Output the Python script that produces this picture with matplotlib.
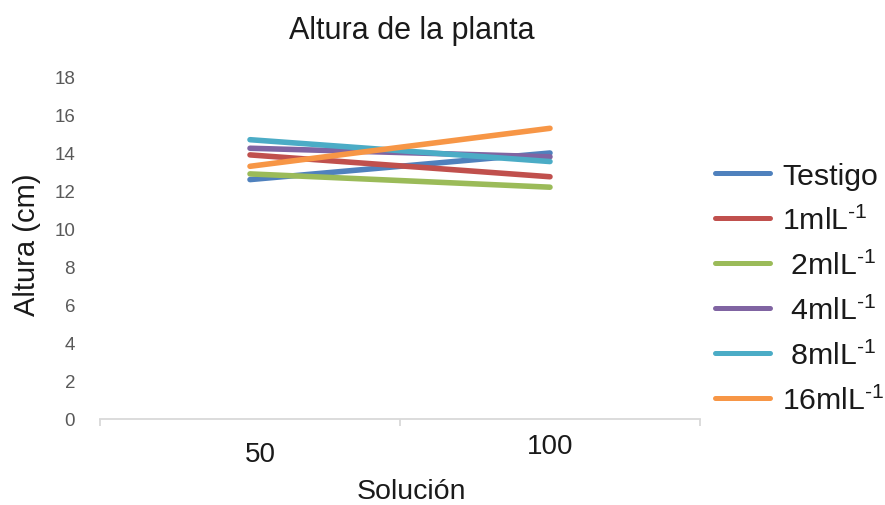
import matplotlib
matplotlib.use("Agg")
import matplotlib.pyplot as plt
from matplotlib.transforms import ScaledTranslation

plt.rcParams["font.family"] = ["Liberation Sans", "DejaVu Sans"]
plt.rcParams["mathtext.fontset"] = "custom"
plt.rcParams["mathtext.rm"] = "Liberation Sans"
plt.rcParams["mathtext.it"] = "Liberation Sans:italic"
plt.rcParams["mathtext.bf"] = "Liberation Sans:bold"

# Data
categories = ["50", "100"]
series_names = ["Testigo", "1mlL$^{\\text{-1}}$", " 2mlL$^{\\text{-1}}$", " 4mlL$^{\\text{-1}}$",
                " 8mlL$^{\\text{-1}}$", "16mlL$^{\\text{-1}}$"]
testigo = [12.6, 14.0]
ml1 = [13.9, 12.75]
ml2 = [12.9, 12.2]
ml4 = [14.25, 13.8]
ml8 = [14.7, 13.55]
ml16 = [13.3, 15.3]
y_ticks = [0, 2, 4, 6, 8, 10, 12, 14, 16, 18]

series = [testigo, ml1, ml2, ml4, ml8, ml16]
colors = ["#4F81BD", "#C0504D", "#9BBB59", "#8064A2", "#4BACC6", "#F79646"]

fig = plt.figure(figsize=(8.85, 5.06), dpi=100)
ax = fig.add_axes([100 / 885, 1 - 420 / 506, 600 / 885, (420 - 78) / 506])

x = list(range(len(categories)))
for vals, name, col in zip(series, series_names, colors):
    ax.plot(x, vals, color=col, lw=4.0, label=name, solid_capstyle="round")

ax.set_xlim(-0.5, len(categories) - 0.5)
ax.set_ylim(0, 18)
ax.set_yticks(y_ticks)
ax.set_yticklabels([str(v) for v in y_ticks])

for side in ["top", "right", "left"]:
    ax.spines[side].set_visible(False)
ax.spines["bottom"].set_color("#D9D9D9")
ax.spines["bottom"].set_linewidth(1.3)

ax.set_xticks(x)
ax.set_xticklabels(categories)
ax.set_xticks([-0.5, 0.5, 1.5], minor=True)
ax.tick_params(axis="x", which="major", length=0, pad=13.2, labelsize=20, labelcolor="#1a1a1a")
ax.tick_params(axis="x", which="minor", length=5, width=1.3, color="#D9D9D9", direction="out")
ax.tick_params(axis="y", length=0, pad=18, labelsize=13.5, labelcolor="#595959")

# the two category labels sit at slightly different places
xlabels = ax.get_xticklabels()
xlabels[0].set_transform(xlabels[0].get_transform()
                         + ScaledTranslation(7.2 / 72, -2.9 / 72, fig.dpi_scale_trans))
xlabels[1].set_transform(xlabels[1].get_transform()
                         + ScaledTranslation(0, 2.9 / 72, fig.dpi_scale_trans))

ax.set_xlabel("Solución", fontsize=20.5, color="#1a1a1a")
ax.xaxis.set_label_coords(0.5 + 11 / 600, -(479 - 420) / 342)
ax.set_ylabel("Altura (cm)", fontsize=21, color="#1a1a1a")
ax.yaxis.set_label_coords(-(100 - 41) / 600, 0.5 + 4 / 342)
fig.text(412 / 885, 1 - 31 / 506, "Altura de la planta", fontsize=22, color="#1a1a1a",
         ha="center", va="center")

leg = ax.legend(loc="upper left", bbox_to_anchor=(715 / 885, 1 - 163 / 506),
                bbox_transform=fig.transFigure, frameon=False, fontsize=21.8,
                handlelength=1.8, handletextpad=0.42, labelspacing=0.52,
                borderaxespad=0, borderpad=0)
for line in leg.get_lines():
    line.set_linewidth(3.6)
for t in leg.get_texts():
    t.set_color("#1a1a1a")

fig.savefig("out.png", dpi=100)
